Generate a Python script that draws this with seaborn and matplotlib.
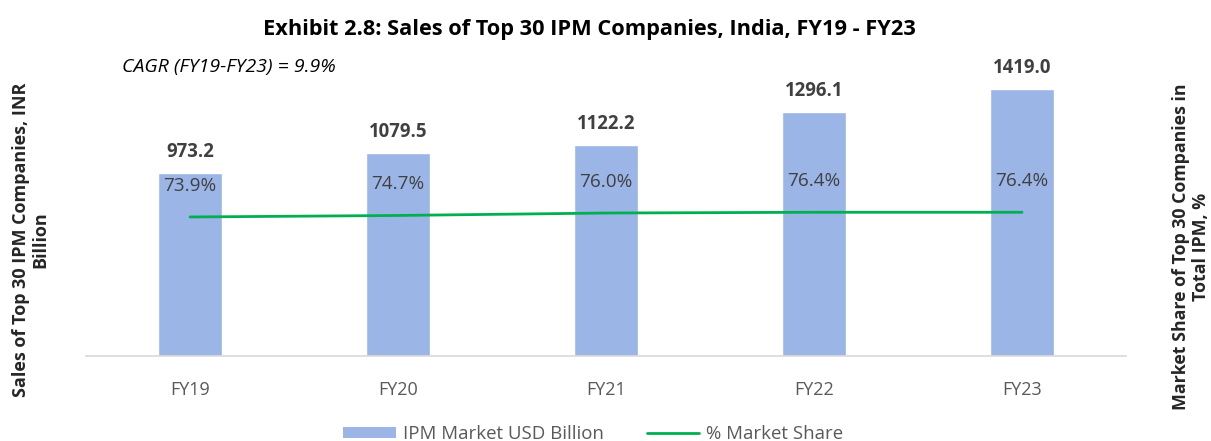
import matplotlib
matplotlib.use("Agg")
import matplotlib.pyplot as plt
import seaborn as sns
import pandas as pd
from matplotlib.patches import Patch
from matplotlib.lines import Line2D

years = ["FY19", "FY20", "FY21", "FY22", "FY23"]
sales = [973.2, 1079.5, 1122.2, 1296.1, 1419.0]
share = [73.9, 74.7, 76.0, 76.4, 76.4]

bar_color = "#9BB5E6"
line_color = "#00B050"
text_dark = "#404040"
text_gray = "#595959"

sns.set_style("white")
plt.rcParams["font.family"] = ["Open Sans", "DejaVu Sans"]

df = pd.DataFrame({"year": years, "sales": sales, "share": share})

fig = plt.figure(figsize=(12.11, 4.41), dpi=100)
ax = fig.add_axes([86 / 1211, 85 / 441, 1040 / 1211, 301 / 441])

sns.barplot(data=df, x="year", y="sales", color=bar_color, width=0.31,
            saturation=1, ax=ax)
ax.set_ylim(0, 1600)
ax.set_xlim(-0.5, 4.5)

ax2 = ax.twinx()
sns.lineplot(data=df, x="year", y="share", color=line_color, linewidth=2,
             ax=ax2, legend=False)
ax2.set_ylim(0, 160)

for a in (ax, ax2):
    for s in ("top", "left", "right", "bottom"):
        a.spines[s].set_visible(False)
    a.set_yticks([])
    a.set_ylabel("")
    a.set_xlabel("")
ax.spines["bottom"].set_visible(True)
ax.spines["bottom"].set_color("#D9D9D9")
ax.spines["bottom"].set_linewidth(1.2)
ax.tick_params(axis="x", length=0, pad=18, labelsize=13, labelcolor=text_gray)

# value labels
for i, v in enumerate(sales):
    ax.annotate(f"{v:.1f}", (i, v), xytext=(0, 15), textcoords="offset points",
                ha="center", va="center", fontsize=13.4, fontweight="bold",
                color=text_dark)
for i, p in enumerate(share):
    ax2.annotate(f"{p:.1f}%", (i, p), xytext=(0, 22.5), textcoords="offset points",
                 ha="center", va="center", fontsize=13.6, color=text_dark)

fig.text(0.487, 1 - 30 / 441, "Exhibit 2.8: Sales of Top 30 IPM Companies, India, FY19 - FY23",
         ha="center", va="center", fontsize=15.7, fontweight="bold", color="black")
fig.text(122 / 1211, 1 - 67 / 441, "CAGR (FY19-FY23) = 9.9%", ha="left", va="center",
         fontsize=14, style="italic", color="black")
fig.text(31 / 1211, 1 - 240 / 441, "Sales of Top 30 IPM Companies, INR\nBillion",
         rotation=90, ha="center", va="center", fontsize=13, fontweight="bold",
         linespacing=1.1)
fig.text(1191 / 1211, 1 - 247 / 441, "Market Share of Top 30 Companies in\nTotal IPM, %",
         rotation=90, ha="center", va="center", fontsize=12.8, fontweight="bold",
         linespacing=1.1)

handles = [Patch(facecolor=bar_color, edgecolor="none"),
           Line2D([0], [0], color=line_color, linewidth=2)]
fig.legend(handles, ["IPM Market USD Billion", "% Market Share"], loc="center",
           bbox_to_anchor=(0.49, 7 / 441), ncol=2, frameon=False, fontsize=13.4,
           handlelength=2.8, handleheight=0.6, handletextpad=0.4, columnspacing=2.3,
           labelcolor=text_gray)

fig.savefig("out.png", dpi=100)
